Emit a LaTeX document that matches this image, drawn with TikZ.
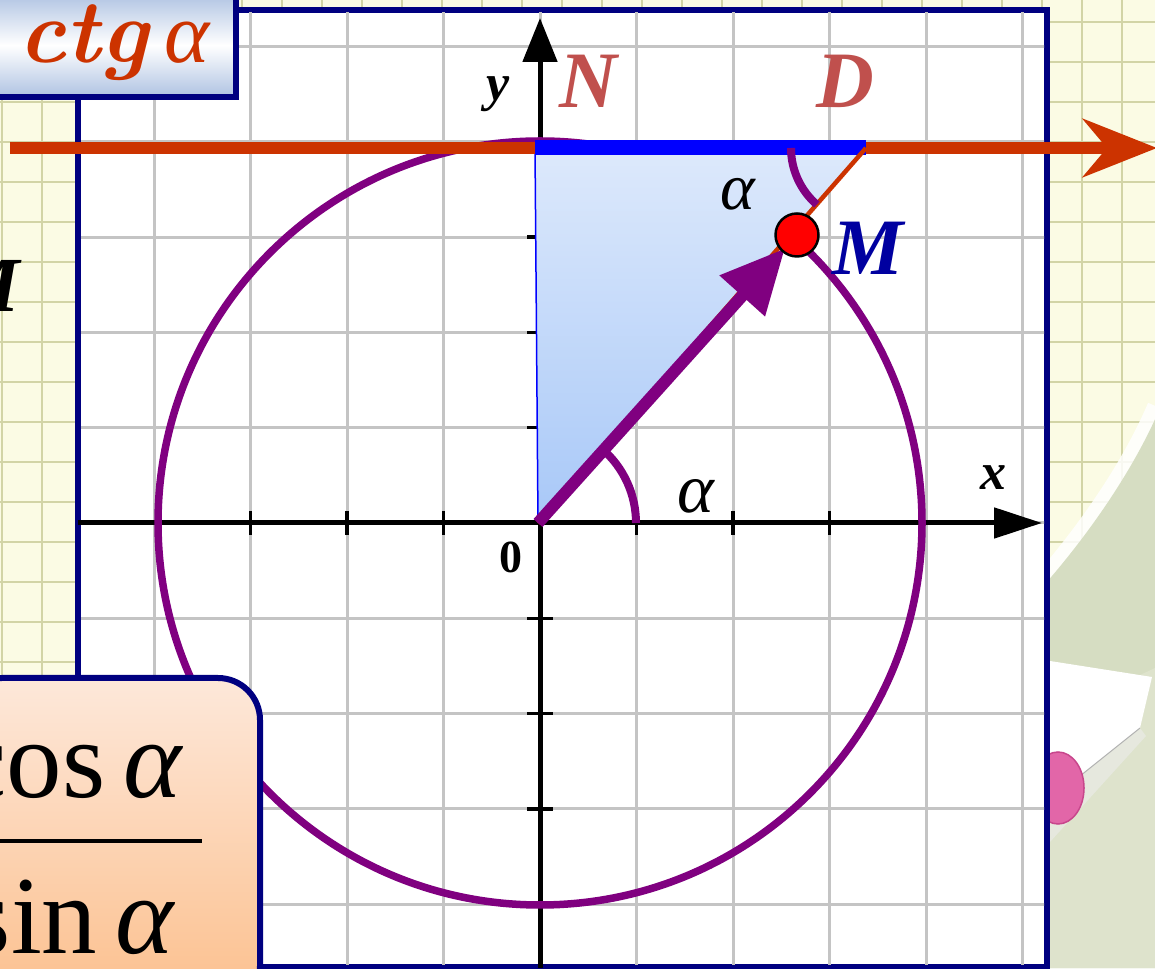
\documentclass[tikz,border=0pt]{standalone}
\usepackage{fontspec}
\newfontfamily\tnr{Liberation Serif}
\usetikzlibrary{arrows.meta,calc}
\definecolor{navy}{HTML}{000080}
\definecolor{purp}{HTML}{800080}
\definecolor{redor}{HTML}{CC3300}
\definecolor{gridg}{HTML}{C4C4C4}
\definecolor{bgy}{HTML}{FBFBE4}
\definecolor{bgl}{HTML}{D2D4A6}
\definecolor{ndc}{HTML}{C0504D}
\definecolor{mblue}{HTML}{0000A0}
\definecolor{greenbg}{HTML}{D6DDC2}
\definecolor{greenlo}{HTML}{DEE3CC}
\definecolor{pinkc}{HTML}{E266A8}
\definecolor{pinkd}{HTML}{C8468C}
\definecolor{tritop}{HTML}{DDE9FB}
\definecolor{tribot}{HTML}{A8C8F8}
\definecolor{boxblue}{HTML}{AEC2E2}
\definecolor{peachtop}{HTML}{FDE8DA}
\definecolor{peachbot}{HTML}{FCBF8C}
\definecolor{pagesc}{HTML}{E6E8DE}
\begin{document}
\begin{tikzpicture}[x=1pt,y=1pt,
  lbl/.style={inner sep=0pt, outer sep=0pt},
  gridline/.style={gridg, line width=3},
  bggrid/.style={bgl, line width=2.5},
  tickline/.style={black, line width=3.5},
  axisline/.style={black, line width=5},
  bigtimes/.style={font=\tnr\bfseries\itshape\fontsize{80}{84}\selectfont},
  smalltimes/.style={font=\tnr\bfseries\itshape\fontsize{52}{56}\selectfont},
  alphafont/.style={font=\tnr\itshape\fontsize{70}{76}\selectfont}]
\useasboundingbox (0,0) rectangle (1155,968);
\clip (0,0) rectangle (1155,968);
% background
\fill[bgy] (0,0) rectangle (1155,968);
\foreach \x in {2,42,...,1154} \draw[bggrid] (\x,0) -- (\x,968);
\foreach \y in {26,66,...,946} \draw[bggrid] (0,\y) -- (1155,\y);
% green region bottom right
\draw[white, line width=26, opacity=0.85] (1160,560) .. controls (1138,508) and (1098,445) .. (1046,385);
\fill[greenbg] (1160,560) .. controls (1138,508) and (1098,445) .. (1046,385) -- (1046,0) -- (1160,0) -- cycle;
\fill[greenlo] (1155,300) -- (1048,250) -- (1048,0) -- (1155,0) -- cycle;
% book
\fill[white] (1050,307) -- (1152,291) -- (1140,240) -- (1050,168) -- cycle;
\fill[pagesc] (1140,240) -- (1050,168) -- (1050,126) -- (1146,232) -- cycle;
\draw[gray!60, line width=1] (1140,240) -- (1050,168);
\fill[pinkc, draw=pinkd, line width=1.5] (1058,180) ellipse[x radius=26, y radius=36];
% frame
\draw[navy, line width=6, fill=white] (78,1) rectangle (1047,958);
\begin{scope}
\clip (81,4) rectangle (1044,955);
\foreach \x in {154,250.5,347,443.5,540,636.5,733,829.5,926,1022.5}
  \draw[gridline] (\x,0) -- (\x,968);
\foreach \y in {63.8,159.1,254.4,349.7,445,540.3,635.6,730.9,826.2,921.5}
  \draw[gridline] (78,\y) -- (1047,\y);
\end{scope}
% key points
\coordinate (O) at (538,445);
\coordinate (N) at (535,820);
\coordinate (D) at (866,820);
\coordinate (M) at (797,733);
\coordinate (Tl) at (10,820);
\coordinate (Tr) at (1157,820);
\coordinate (Xl) at (78,445);
\coordinate (Xr) at (1042,445);
\coordinate (Yb) at (540,0);
\coordinate (Yt) at (540,950);
% axes
\draw[axisline, -{Triangle[length=48pt,width=30pt]}] (Xl) -- (Xr);
\draw[axisline, -{Triangle[length=44pt,width=34pt]}] (Yb) -- (Yt);
\foreach \x in {250.5,347,443.5,636.5,733,829.5} \draw[tickline] (\x,433) -- (\x,457);
\foreach \y in {159.1,254.4,349.7,540.3,635.6,730.9} \draw[tickline] (527,\y) -- (553,\y);
% circle
\draw[purp, line width=7.5] (540,445) circle[radius=382];
% triangle
\shade[top color=tritop, bottom color=tribot] (O) -- (N) -- (D) -- cycle;
\draw[blue, line width=1.5] (O) -- (N);
% tangent line
\draw[redor, line width=12, -{Stealth[length=74pt,width=58pt,inset=24pt]}] (Tl) -- (Tr);
\draw[blue, line width=15] (N) -- (D);
\draw[redor, line width=4.5] (D) -- (O);
% angle arcs
\draw[purp, line width=8] ($(O)+(98,0)$) arc[start angle=0, end angle=49, radius=98];
\draw[purp, line width=8] ($(D)+(180:75)$) arc[start angle=180, end angle=229, radius=75];
% vector
\draw[purp, line width=12, -{Triangle[length=64pt,width=58pt]}, shorten >=18pt] (O) -- (M);
\node[circle, fill=red, draw=black, line width=2.5, minimum size=43pt, inner sep=0pt] (Mdot) at (M) {};
% labels
\node[lbl, bigtimes, text=ndc, anchor=base west] (labN) at (559,860) {N};
\node[lbl, bigtimes, text=ndc, anchor=base west] (labD) at (816,860) {D};
\node[lbl, bigtimes, text=mblue, anchor=base west] (labM) at (832,693) {M};
\node[lbl, smalltimes, anchor=base west] (ylab) at (486,867) {y};
\node[lbl, smalltimes, anchor=base west] (xlab) at (980,478) {x};
\node[lbl, font=\tnr\bfseries\fontsize{46}{50}\selectfont, anchor=base west] (zero) at (499,395) {0};
\node[lbl, alphafont, anchor=base west] (alphaO) at (677,455) {α};
\node[lbl, font=\tnr\itshape\fontsize{66}{70}\selectfont, anchor=base west] (alphaD) at (720,758) {α};
\node[lbl, font=\tnr\bfseries\itshape\fontsize{78}{80}\selectfont, anchor=base east] (mfrag) at (20,656) {M};
% ctg box
\path[draw=navy, line width=6, top color=boxblue, bottom color=boxblue, middle color=white] (-10,870.5) rectangle (236,975);
\node[lbl, text=redor, font=\bfseries\itshape\fontsize{90}{92}\selectfont, anchor=base west] (ctg) at (18,905) {ctg};
\node[lbl, text=redor, font=\tnr\itshape\fontsize{86}{90}\selectfont, anchor=base west] (ctga) at (164,905) {α};
% formula box
\path[draw=navy, line width=6, rounded corners=42, top color=peachtop, bottom color=peachbot] (-40,-40) rectangle (260,290);
\node[lbl, font=\tnr\fontsize{111}{120}\selectfont, anchor=base east] (num) at (184,170) {cos\,\textit{α}};
\node[lbl, font=\tnr\fontsize{111}{120}\selectfont, anchor=base east] (den) at (176,15) {sin\,\textit{α}};
\coordinate (fbL) at (-5,127);
\coordinate (fbR) at (202,127);
\draw[line width=4] (fbL) -- (fbR);
\end{tikzpicture}
\end{document}
